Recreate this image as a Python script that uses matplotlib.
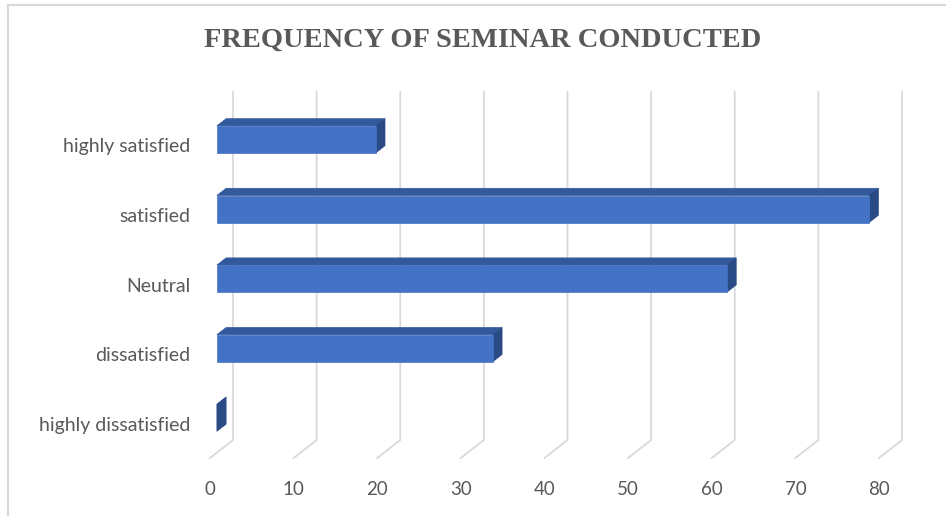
import matplotlib
matplotlib.use("Agg")
import matplotlib.pyplot as plt
from matplotlib.patches import Polygon
from matplotlib.lines import Line2D

# Survey responses: satisfaction with frequency of seminars conducted
categories = ["highly satisfied", "satisfied", "Neutral", "dissatisfied", "highly dissatisfied"]
counts = [19, 78, 61, 33, 0]
ticks = [0, 10, 20, 30, 40, 50, 60, 70, 80]

W, H, DPI = 946, 516, 100
fig = plt.figure(figsize=(W / DPI, H / DPI), dpi=DPI)
fig.patch.set_facecolor("white")

# Front plane of the pseudo-3D plot area, in pixels
x0_px, x1_px = 210, 879
y_top_px, y_bot_px = 110, 458
ax = fig.add_axes([x0_px / W, 1 - y_bot_px / H, (x1_px - x0_px) / W, (y_bot_px - y_top_px) / H])
ax.set_xlim(0, 80)
ax.set_ylim(len(categories) - 0.5, -0.5)
ax.axis("off")

# Depth offset of the back wall, in pixels (right and up)
DEPTH_DX, DEPTH_DY = 23.0, 18.0
px_per_x = (x1_px - x0_px) / 80.0
px_per_y = (y_bot_px - y_top_px) / len(categories)


def pt(v, c, depth):
    """Data point (v, c) pushed back by a fraction of the depth."""
    return (v + depth * DEPTH_DX / px_per_x, c - depth * DEPTH_DY / px_per_y)


grid_col = "#d9d9d9"
text_col = "#595959"
for t in ticks:
    xs, ys = zip(pt(t, -0.5, 1), pt(t, len(categories) - 0.5, 1), pt(t, len(categories) - 0.5, 0))
    ax.add_line(Line2D(xs, ys, color=grid_col, lw=1.3, clip_on=False, zorder=1))
    ax.text(t, len(categories) - 0.5 + 31 / px_per_y, str(t), ha="center", va="center",
            fontsize=13.5, color=text_col, family="Lato")

front_col, top_col, side_col = "#4472c4", "#32599c", "#2a4a85"
bar_h = 27 / px_per_y
d0, d1 = 0.3, 0.7
for i, (cat, v) in enumerate(zip(categories, counts)):
    top, bot = i - bar_h / 2, i + bar_h / 2
    # top face
    ax.add_patch(Polygon([pt(0, top, d0), pt(v, top, d0), pt(v, top, d1), pt(0, top, d1)],
                         closed=True, facecolor=top_col, edgecolor=top_col, lw=0.5,
                         clip_on=False, zorder=2))
    # end face
    ax.add_patch(Polygon([pt(v, top, d0), pt(v, top, d1), pt(v, bot, d1), pt(v, bot, d0)],
                         closed=True, facecolor=side_col, edgecolor=side_col, lw=0.5,
                         clip_on=False, zorder=2))
    # front face
    if v > 0:
        ax.add_patch(Polygon([pt(0, top, d0), pt(v, top, d0), pt(v, bot, d0), pt(0, bot, d0)],
                             closed=True, facecolor=front_col, edgecolor=front_col, lw=0.5,
                             clip_on=False, zorder=3))
    ax.text(-20 / px_per_x, i + 2 / px_per_y, cat, ha="right", va="center", fontsize=14,
            color=text_col, family="Lato")

fig.text(483 / W, 1 - 40 / H, "FREQUENCY OF SEMINAR CONDUCTED", ha="center", va="center",
         fontsize=20.5, fontweight="bold", color=text_col, family="Liberation Serif")

# Chart frame
fig.add_artist(Line2D([8 / W, 8 / W], [0, 1 - 5 / H], transform=fig.transFigure,
                      color=grid_col, lw=1.5))
fig.add_artist(Line2D([8 / W, 1], [1 - 5 / H, 1 - 5 / H], transform=fig.transFigure,
                      color=grid_col, lw=1.5))

fig.savefig("out.png", dpi=DPI)
